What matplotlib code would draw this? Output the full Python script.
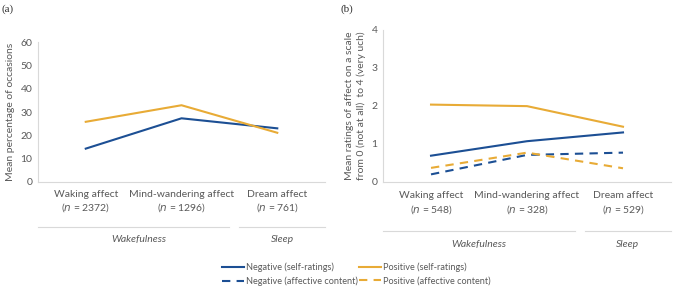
import matplotlib
matplotlib.use('Agg')
import matplotlib.pyplot as plt
from matplotlib.lines import Line2D
from matplotlib.transforms import blended_transform_factory

plt.rcParams['font.family'] = ['Lato', 'DejaVu Sans']

BLUE = '#1c4f94'
GOLD = '#e8ab36'
GRAY = '#595959'
AXIS = '#d9d9d9'

# data
categories = ['Waking affect', 'Mind-wandering affect', 'Dream affect']
n_a = [2372, 1296, 761]
n_b = [548, 328, 529]

a_negative = [14.3, 27.3, 23.0]
a_positive = [25.8, 32.9, 21.1]

b_neg_self = [0.69, 1.07, 1.30]
b_pos_self = [2.03, 1.99, 1.45]
b_neg_content = [0.20, 0.71, 0.77]
b_pos_content = [0.37, 0.77, 0.36]

fig = plt.figure(figsize=(6.76, 2.91), dpi=100)
ax1 = fig.add_axes([0.056, 0.3746, 0.425, 0.481])
ax2 = fig.add_axes([0.5666, 0.3746, 0.426, 0.524])

x = range(len(categories))
FS = 7.5


def style(ax, ymax, step):
    for s in ['top', 'right']:
        ax.spines[s].set_visible(False)
    for s in ['left', 'bottom']:
        ax.spines[s].set_color(AXIS)
        ax.spines[s].set_linewidth(0.8)
    ax.set_xlim(-0.5, 2.5)
    ax.set_ylim(0, ymax)
    ax.set_yticks([i * step for i in range(int(ymax / step) + 1)])
    ax.tick_params(length=0, labelsize=FS, colors=GRAY, pad=4)
    ax.set_xticks([])


def cat_labels(ax, counts, sleep_from, wake_to, wake_x, sleep_x):
    tr = blended_transform_factory(ax.transData, ax.transAxes)
    for i, (c, n) in enumerate(zip(categories, counts)):
        ax.text(i, -0.06, c, transform=tr, ha='center', va='top',
                fontsize=FS, color=GRAY)
        ax.text(i, -0.14, f'($n$ = {n})', transform=tr, ha='center',
                va='top', fontsize=FS, color=GRAY)
    ax.add_line(Line2D([-0.5, wake_to], [-0.32, -0.32], transform=tr,
                       color=AXIS, lw=0.8, clip_on=False))
    ax.add_line(Line2D([sleep_from, 2.5], [-0.32, -0.32], transform=tr,
                       color=AXIS, lw=0.8, clip_on=False))
    ax.text(wake_x, -0.38, 'Wakefulness', transform=tr, ha='center',
            va='top', fontsize=FS, color=GRAY, style='italic')
    ax.text(sleep_x, -0.38, 'Sleep', transform=tr, ha='center',
            va='top', fontsize=FS, color=GRAY, style='italic')


# panel (a)
ax1.plot(x, a_negative, color=BLUE, lw=1.5)
ax1.plot(x, a_positive, color=GOLD, lw=1.5)
style(ax1, 60, 10)
ax1.set_ylabel('Mean percentage of occasions', fontsize=FS, color=GRAY,
               labelpad=4)
cat_labels(ax1, n_a, 1.6, 1.5, 0.55, 2.05)

# panel (b)
ax2.plot(x, b_neg_self, color=BLUE, lw=1.5, label='Negative (self-ratings)')
ax2.plot(x, b_pos_self, color=GOLD, lw=1.5, label='Positive (self-ratings)')
ax2.plot(x, b_neg_content, color=BLUE, lw=1.5, ls=(0, (4, 3)),
         label='Negative (affective content)')
ax2.plot(x, b_pos_content, color=GOLD, lw=1.5, ls=(0, (4, 3)),
         label='Positive (affective content)')
style(ax2, 4, 1)
ax2.set_ylabel('Mean ratings of affect on a scale\nfrom 0 (not at all)  to 4 (very uch)',
               fontsize=FS, color=GRAY, labelpad=4, linespacing=1.25)
cat_labels(ax2, n_b, 1.6, 1.5, 0.5, 2.05)

handles, labels = ax2.get_legend_handles_labels()
order = [0, 2, 1, 3]
fig.legend([handles[i] for i in order], [labels[i] for i in order],
           ncol=2, loc='center', bbox_to_anchor=(0.527, 0.057), frameon=False,
           fontsize=6.6, labelcolor=GRAY, handlelength=2.4, handletextpad=0.15,
           columnspacing=0.2, labelspacing=0.45)

fig.text(0.002, 0.985, '(a)', fontsize=8, va='top', ha='left',
         family='Liberation Serif', color='#333333')
fig.text(0.503, 0.985, '(b)', fontsize=8, va='top', ha='left',
         family='Liberation Serif', color='#333333')

fig.savefig('out.png', dpi=100)
